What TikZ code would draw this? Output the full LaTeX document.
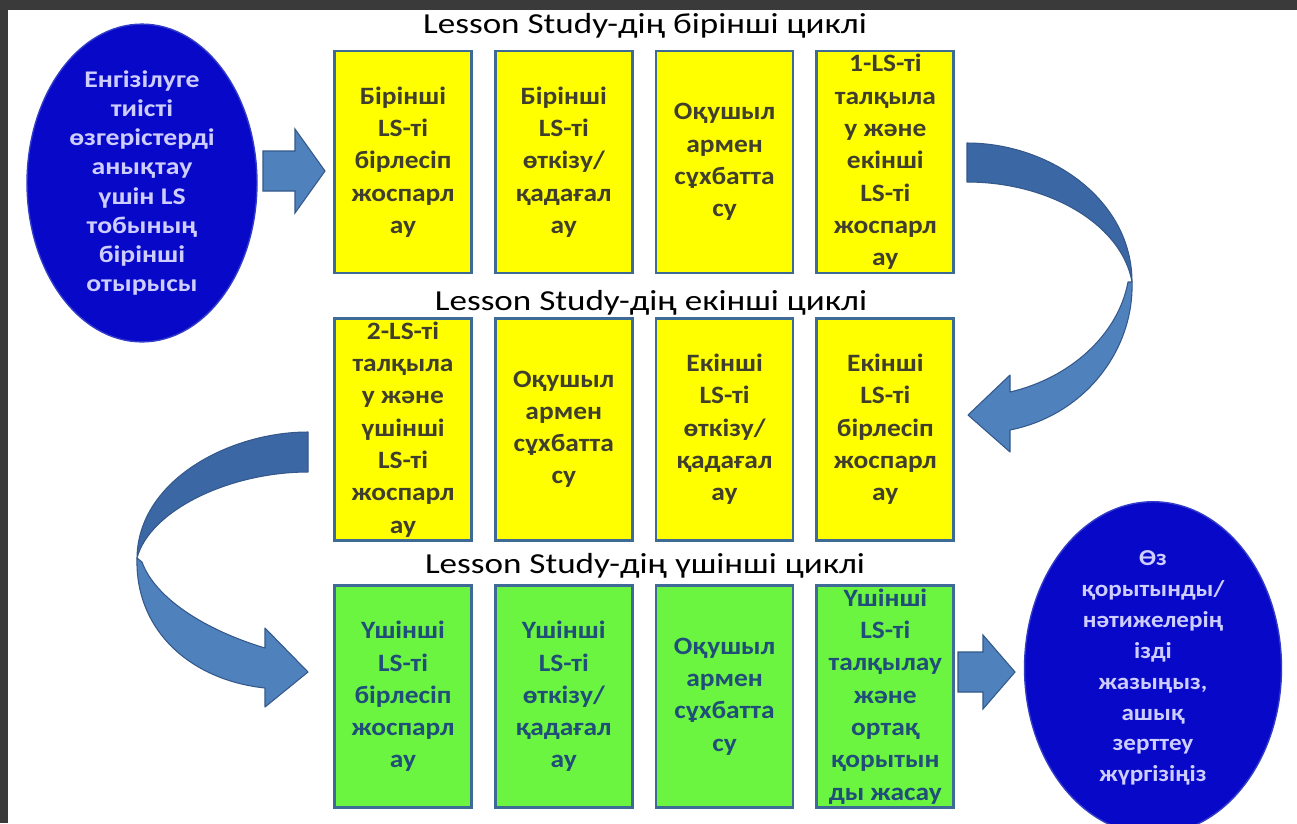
\documentclass[tikz,border=0pt]{standalone}
\usepackage{fontspec}
\setmainfont{Carlito}
\newfontfamily\titlefont{Carlito}[FakeStretch=1.21]
\newfontfamily\boxfont{Carlito}[FakeStretch=1.1]
\newfontfamily\ovalfont{Carlito}[FakeStretch=1.16]
\usetikzlibrary{shapes.geometric, positioning}

\definecolor{frame}{RGB}{58,58,58}
\definecolor{boxyellow}{RGB}{255,255,0}
\definecolor{boxgreen}{RGB}{108,245,64}
\definecolor{boxedge}{RGB}{62,106,150}
\definecolor{yellowtext}{RGB}{64,62,44}
\definecolor{greentext}{RGB}{31,78,121}
\definecolor{ovalblue}{RGB}{8,8,200}
\definecolor{ovaledge}{RGB}{50,60,200}
\definecolor{ovaltext}{RGB}{205,205,255}
\definecolor{arrowblue}{RGB}{79,129,189}
\definecolor{arrowdark}{RGB}{60,103,165}
\definecolor{arrowedge}{RGB}{52,88,138}

\begin{document}
\begin{tikzpicture}[
    x=0.02cm, y=-0.02cm,
    node distance=0.42cm,
    lsbox/.style={
        rectangle, draw=boxedge, line width=1.6pt,
        minimum width=2.74cm, minimum height=4.44cm,
        inner sep=0pt, align=center,
        font=\boxfont\bfseries\fontsize{14.2}{18.4}\selectfont
    },
    yellowbox/.style={lsbox, fill=boxyellow, text=yellowtext},
    greenbox/.style={lsbox, fill=boxgreen, text=greentext},
    goal/.style={
        ellipse, draw=ovaledge, fill=ovalblue, text=ovaltext,
        line width=0.8pt, inner sep=0pt, align=center
    },
    cycletitle/.style={anchor=base, font=\titlefont\fontsize{16.5}{20}\selectfont},
    blockarrow/.style={fill=arrowblue, draw=arrowedge, line width=0.6pt},
    bandarrow/.style={draw=arrowedge, line width=0.6pt, line join=round},
]

% page and dark frame
\useasboundingbox (0,0) rectangle (1297,823);
\fill[white] (0,0) rectangle (1297,823);
\fill[frame] (0,0) rectangle (1297,10);
\fill[frame] (0,0) rectangle (8,823);

% first meeting and final step
\node[goal, minimum width=4.6cm, minimum height=5.12cm,
      font=\ovalfont\bfseries\fontsize{13.6}{16.6}\selectfont] (start) at (142,183)
    {Енгізілуге\\тиісті\\өзгерістерді\\анықтау\\үшін LS\\тобының\\бірінші\\отырысы};
\node[goal, minimum width=5.14cm, minimum height=5.54cm,
      font=\boxfont\bfseries\fontsize{13}{17.6}\selectfont] (finish) at (1153,668)
    {Өз\\қорытынды/\\нәтижелерің\\ізді\\жазыңыз,\\ашық\\зерттеу\\жүргізіңіз};

% first cycle
\node[cycletitle] (t1) at (645,33) {Lesson Study-дің бірінші циклі};
\node[yellowbox] (b11) at (403,162) {Бірінші\\LS-ті\\бірлесіп\\жоспарл\\ау};
\node[yellowbox, right=of b11] (b12) {Бірінші\\LS-ті\\өткізу/\\қадағал\\ау};
\node[yellowbox, right=of b12] (b13) {Оқушыл\\армен\\сұхбатта\\су};
\node[yellowbox, right=of b13] (b14) {1-LS-ті\\талқыла\\у және\\екінші\\LS-ті\\жоспарл\\ау};

% second cycle
\node[cycletitle] (t2) at (651,310) {Lesson Study-дің екінші циклі};
\node[yellowbox, below=0.85cm of b11] (b21) {2-LS-ті\\талқыла\\у және\\үшінші\\LS-ті\\жоспарл\\ау};
\node[yellowbox, right=of b21] (b22) {Оқушыл\\армен\\сұхбатта\\су};
\node[yellowbox, right=of b22] (b23) {Екінші\\LS-ті\\өткізу/\\қадағал\\ау};
\node[yellowbox, right=of b23] (b24) {Екінші\\LS-ті\\бірлесіп\\жоспарл\\ау};

% third cycle
\node[cycletitle] (t3) at (645,573) {Lesson Study-дің үшінші циклі};
\node[greenbox, below=0.85cm of b21] (b31) {Үшінші\\LS-ті\\бірлесіп\\жоспарл\\ау};
\node[greenbox, right=of b31] (b32) {Үшінші\\LS-ті\\өткізу/\\қадағал\\ау};
\node[greenbox, right=of b32] (b33) {Оқушыл\\армен\\сұхбатта\\су};
\node[greenbox, right=of b33] (b34) {Үшінші\\LS-ті\\талқылау\\және\\ортақ\\қорытын\\ды жасау};

% straight block arrows
\coordinate (a1) at (263,171);
\coordinate (a2) at (958,672);
\draw[blockarrow] (a1) ++(0,-20) -- ++(32,0) -- ++(0,-22) -- ++(30,42)
    -- ++(-30,42) -- ++(0,-22) -- ++(-32,0) -- cycle;
\draw[blockarrow] (a2) ++(0,-20) -- ++(25,0) -- ++(0,-17) -- ++(32,37)
    -- ++(-32,37) -- ++(0,-17) -- ++(-25,0) -- cycle;

% curved arrow, first cycle to second
\draw[bandarrow, fill=arrowdark] (967,143) .. controls (1050,143) and (1132,200) .. (1132,282)
    .. controls (1122,225) and (1050,182) .. (967,182) -- cycle;
\draw[bandarrow, fill=arrowblue] (1132,282) .. controls (1134,350) and (1085,415) .. (1010,430)
    -- (1010,452) -- (968,415) -- (1010,375) -- (1010,392)
    .. controls (1070,378) and (1118,335) .. (1128,282) -- cycle;

% curved arrow, second cycle to third
\draw[bandarrow, fill=arrowdark] (308,432) .. controls (230,432) and (138,480) .. (137,558)
    .. controls (150,510) and (230,472) .. (308,472) -- cycle;
\draw[bandarrow, fill=arrowblue] (137,558) .. controls (135,630) and (190,680) .. (265,688)
    -- (265,707) -- (308,672) -- (265,628) -- (265,648)
    .. controls (205,630) and (155,598) .. (142,562) -- cycle;

\end{tikzpicture}
\end{document}
